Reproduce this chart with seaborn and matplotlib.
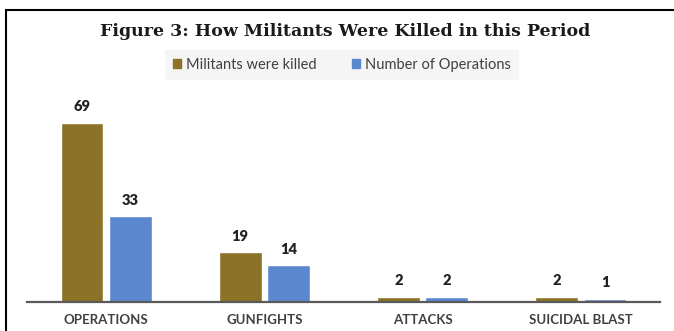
import matplotlib
matplotlib.use("Agg")
import matplotlib.pyplot as plt
import seaborn as sns
import pandas as pd
from matplotlib.lines import Line2D

categories = ["OPERATIONS", "GUNFIGHTS", "ATTACKS", "SUICIDAL BLAST"]
militants_killed = [69, 19, 2, 2]
num_operations = [33, 14, 2, 1]
series_names = ["Militants were killed", "Number of Operations"]
colors = ["#8C7227", "#5B87CF"]

df = pd.DataFrame({
    "category": categories * 2,
    "value": militants_killed + num_operations,
    "series": [series_names[0]] * 4 + [series_names[1]] * 4,
})

sns.set_style("white")
plt.rcParams["font.family"] = ["Lato", "DejaVu Sans"]

W, H = 674, 331
fig = plt.figure(figsize=(W / 100, H / 100), dpi=100)
ax_left, ax_right = 27, 660
ax_bottom, ax_top = 301.7, 85
ax = fig.add_axes([ax_left / W, (H - ax_bottom) / H, (ax_right - ax_left) / W, (ax_bottom - ax_top) / H])

sns.barplot(data=df, x="category", y="value", hue="series", palette=colors,
            saturation=1, width=0.61, gap=0.11, ax=ax, legend=False, errorbar=None)

ax.set_ylim(0, (ax_bottom - ax_top) / 2.59)
ax.set_xlim(-0.5, 3.5)
for s in ["top", "right", "left"]:
    ax.spines[s].set_visible(False)
ax.spines["bottom"].set_color("#5a5a5a")
ax.spines["bottom"].set_linewidth(1.6)
ax.set_yticks([])
ax.set_xlabel("")
ax.set_ylabel("")
ax.tick_params(axis="x", length=0, pad=9)
for lbl in ax.get_xticklabels():
    lbl.set_fontweight("bold")
    lbl.set_fontsize(9.5)
    lbl.set_color("#404040")

for cont in ax.containers:
    for bar in cont:
        h = bar.get_height()
        ax.annotate(f"{int(h)}", (bar.get_x() + bar.get_width() / 2, h),
                    xytext=(0, 7), textcoords="offset points",
                    ha="center", va="bottom", fontsize=10.5, fontweight="heavy",
                    color="#222222")

fig.text(345 / W, 1 - 32 / H, "Figure 3: How Militants Were Killed in this Period",
         ha="center", va="center", fontsize=12.5, fontweight="bold",
         family=["DejaVu Serif"], color="#1a1a1a")

handles = [plt.Rectangle((0, 0), 1, 1, color=c) for c in colors]
leg = fig.legend(handles, series_names, loc="center", bbox_to_anchor=(342 / W, 1 - 65 / H),
                 ncol=2, frameon=True, fontsize=10.5, handlelength=0.55, handleheight=0.55,
                 handletextpad=0.35, columnspacing=2.4, borderpad=0.55, fancybox=False)
leg.get_frame().set_facecolor("#f3f3f3")
leg.get_frame().set_edgecolor("none")
for t in leg.get_texts():
    t.set_color("#404040")

fig.add_artist(Line2D([6 / W, 1], [1 - 10 / H, 1 - 10 / H], color="black", lw=1.5))
fig.add_artist(Line2D([6 / W, 6 / W], [0, 1 - 10 / H], color="black", lw=1.5))

fig.savefig("out.png", dpi=100)
